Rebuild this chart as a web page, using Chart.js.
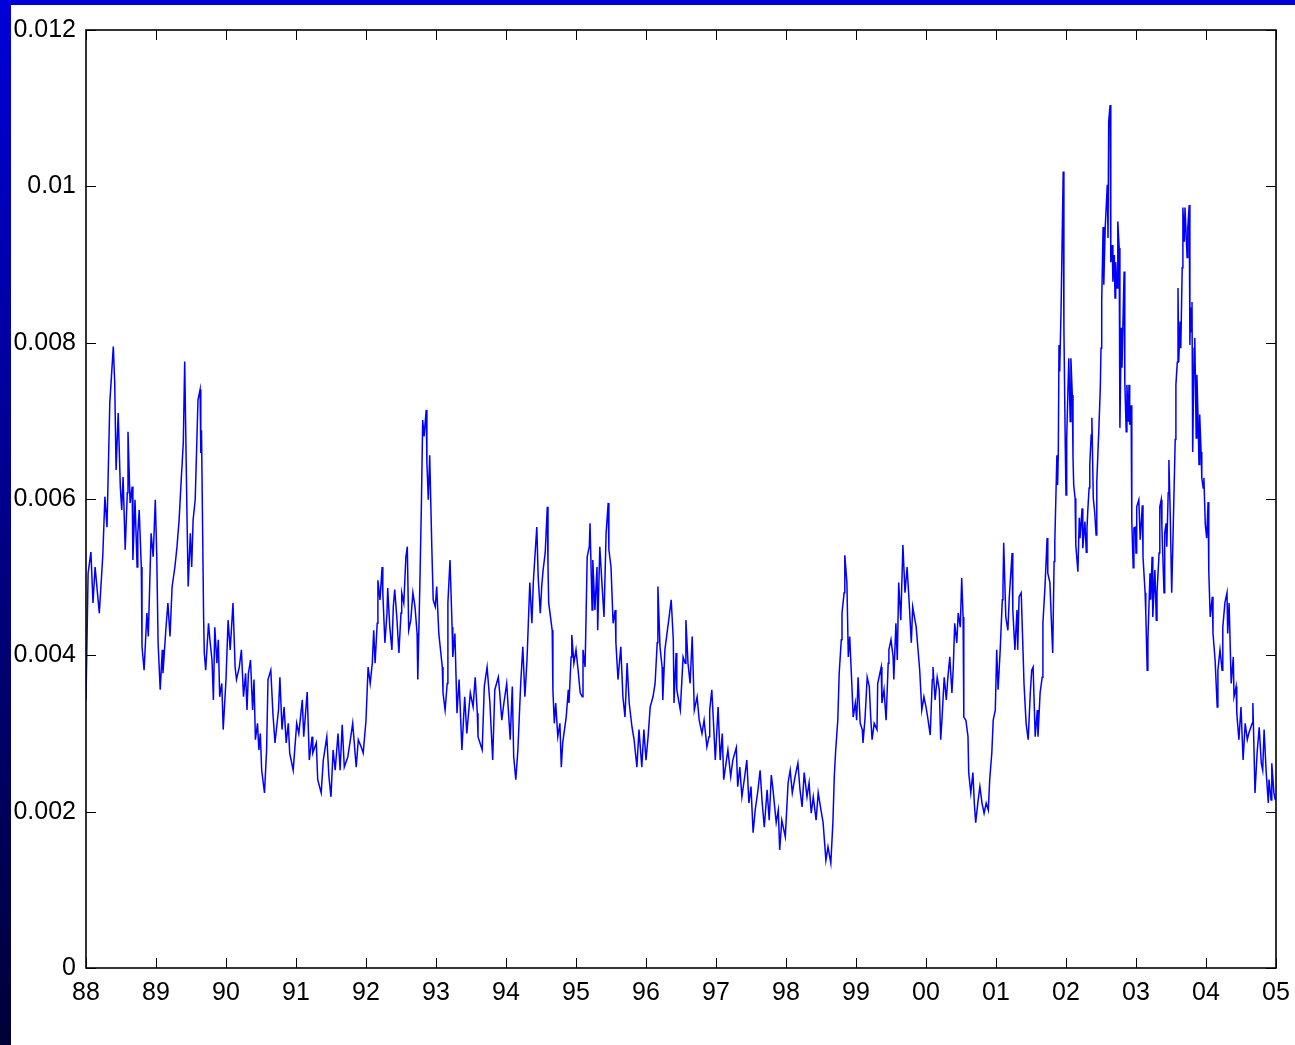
<!DOCTYPE html>
<html>
<head>
<meta charset="utf-8">
<script src="https://cdn.jsdelivr.net/npm/chart.js@4/dist/chart.umd.min.js"></script>
<style>
  html, body { margin: 0; padding: 0; background: #fff; overflow: hidden; }
  #wrap { position: relative; width: 1295px; height: 1045px; }
  #chart { position: absolute; left: 0; top: 0; }
  #barLeft { position: absolute; left: 0; top: 0; width: 11px; height: 1045px;
             background: linear-gradient(#0000d8, #000038); z-index: 2; }
  #barTop { position: absolute; left: 0; top: 0; width: 1295px; height: 5px;
            background: #0000d8; z-index: 2; }
</style>
</head>
<body>
<div id="wrap">
  <canvas id="chart" width="1295" height="1045"></canvas>
  <div id="barLeft"></div>
  <div id="barTop"></div>
</div>
<script>
// decimal years
const dates = [
  1988.00, 1988.03, 1988.07, 1988.10, 1988.13, 1988.19, 1988.24, 1988.27, 1988.30, 1988.34,
  1988.39, 1988.41, 1988.43, 1988.46, 1988.49, 1988.51, 1988.53, 1988.56, 1988.59, 1988.60,
  1988.63, 1988.66, 1988.67, 1988.70, 1988.73, 1988.74, 1988.76, 1988.79, 1988.80, 1988.83,
  1988.87, 1988.89, 1988.93, 1988.96, 1988.99,
  1989.01, 1989.03, 1989.06, 1989.09, 1989.10, 1989.14, 1989.17, 1989.20, 1989.23, 1989.27,
  1989.30, 1989.33, 1989.36, 1989.39, 1989.41, 1989.44, 1989.45, 1989.46, 1989.49, 1989.51,
  1989.53, 1989.56, 1989.58, 1989.60, 1989.63, 1989.64, 1989.65, 1989.68, 1989.69, 1989.71,
  1989.75, 1989.77, 1989.80, 1989.82, 1989.84, 1989.87, 1989.89, 1989.91, 1989.94, 1989.96,
  1990.00, 1990.03, 1990.06, 1990.10, 1990.13, 1990.15, 1990.19, 1990.22, 1990.25, 1990.28,
  1990.30, 1990.32, 1990.35, 1990.38, 1990.40, 1990.42, 1990.45, 1990.47, 1990.49, 1990.51,
  1990.55, 1990.58, 1990.60, 1990.64, 1990.67, 1990.70, 1990.75, 1990.77, 1990.80, 1990.83,
  1990.86, 1990.89, 1990.91, 1990.96,
  1991.01, 1991.04, 1991.09, 1991.11, 1991.16, 1991.19, 1991.23, 1991.24, 1991.29, 1991.31,
  1991.36, 1991.39, 1991.44, 1991.47, 1991.50, 1991.53, 1991.56, 1991.60, 1991.63, 1991.66,
  1991.69, 1991.74, 1991.77, 1991.81, 1991.86, 1991.89, 1991.93, 1991.96,
  1992.00, 1992.03, 1992.06, 1992.09, 1992.11, 1992.13, 1992.16, 1992.17, 1992.20, 1992.23,
  1992.24, 1992.27, 1992.30, 1992.31, 1992.34, 1992.37, 1992.39, 1992.41, 1992.44, 1992.47,
  1992.50, 1992.51, 1992.54, 1992.57, 1992.59, 1992.61, 1992.64, 1992.67, 1992.70, 1992.73,
  1992.74, 1992.77, 1992.79, 1992.81, 1992.83, 1992.86, 1992.87, 1992.89, 1992.91, 1992.94,
  1992.96, 1992.99,
  1993.01, 1993.04, 1993.09, 1993.10, 1993.13, 1993.16, 1993.17, 1993.20, 1993.23, 1993.24,
  1993.27, 1993.30, 1993.33, 1993.37, 1993.41, 1993.44, 1993.49, 1993.53, 1993.56, 1993.59,
  1993.60, 1993.66, 1993.69, 1993.73, 1993.77, 1993.81, 1993.84, 1993.89, 1993.91, 1993.94,
  1993.97,
  1994.01, 1994.06, 1994.09, 1994.11, 1994.14, 1994.17, 1994.21, 1994.24, 1994.27, 1994.30,
  1994.34, 1994.37, 1994.39, 1994.41, 1994.44, 1994.46, 1994.49, 1994.51, 1994.53, 1994.56,
  1994.59, 1994.60, 1994.61, 1994.66, 1994.67, 1994.69, 1994.71, 1994.74, 1994.77, 1994.79,
  1994.81, 1994.86, 1994.89, 1994.90, 1994.93, 1994.94, 1994.97,
  1995.00, 1995.03, 1995.06, 1995.09, 1995.10, 1995.13, 1995.16, 1995.19, 1995.20, 1995.23,
  1995.24, 1995.27, 1995.30, 1995.31, 1995.34, 1995.37, 1995.40, 1995.43, 1995.46, 1995.47,
  1995.50, 1995.53, 1995.56, 1995.57, 1995.60, 1995.64, 1995.67, 1995.70, 1995.73, 1995.76,
  1995.80, 1995.83, 1995.87, 1995.90, 1995.94, 1995.97,
  1996.00, 1996.03, 1996.06, 1996.10, 1996.13, 1996.16, 1996.17, 1996.20, 1996.23, 1996.24,
  1996.27, 1996.30, 1996.33, 1996.36, 1996.39, 1996.40, 1996.43, 1996.44, 1996.49, 1996.53,
  1996.56, 1996.57, 1996.60, 1996.63, 1996.66, 1996.69, 1996.73, 1996.76, 1996.80, 1996.83,
  1996.87, 1996.90, 1996.91, 1996.94, 1996.96, 1996.99,
  1997.03, 1997.06, 1997.09, 1997.11, 1997.17, 1997.21, 1997.24, 1997.29, 1997.31, 1997.34,
  1997.37, 1997.41, 1997.44, 1997.47, 1997.50, 1997.53, 1997.56, 1997.60, 1997.63, 1997.66,
  1997.69, 1997.73, 1997.76, 1997.79, 1997.81, 1997.86, 1997.89, 1997.91, 1997.94, 1997.99,
  1998.03, 1998.06, 1998.09, 1998.13, 1998.17, 1998.20, 1998.23, 1998.26, 1998.30, 1998.33,
  1998.36, 1998.39, 1998.43, 1998.46, 1998.50, 1998.53, 1998.57, 1998.60, 1998.64, 1998.67,
  1998.69, 1998.71, 1998.74, 1998.76, 1998.79, 1998.80, 1998.83, 1998.84, 1998.87, 1998.89,
  1998.91, 1998.94, 1998.96, 1998.99,
  1999.01, 1999.03, 1999.06, 1999.09, 1999.10, 1999.13, 1999.16, 1999.19, 1999.21, 1999.23,
  1999.26, 1999.30, 1999.31, 1999.36, 1999.37, 1999.40, 1999.43, 1999.46, 1999.47, 1999.50,
  1999.53, 1999.54, 1999.57, 1999.59, 1999.61, 1999.64, 1999.67, 1999.70, 1999.73, 1999.76,
  1999.79, 1999.81, 1999.86, 1999.89, 1999.91, 1999.94, 1999.97,
  2000.00, 2000.03, 2000.06, 2000.09, 2000.10, 2000.13, 2000.16, 2000.19, 2000.21, 2000.23,
  2000.26, 2000.29, 2000.31, 2000.34, 2000.37, 2000.39, 2000.41, 2000.44, 2000.46, 2000.49,
  2000.51, 2000.53, 2000.54, 2000.57, 2000.60, 2000.61, 2000.64, 2000.67, 2000.69, 2000.71,
  2000.74, 2000.77, 2000.80, 2000.83, 2000.86, 2000.89, 2000.91, 2000.94, 2000.96, 2000.99,
  2001.01, 2001.03, 2001.06, 2001.09, 2001.10, 2001.11, 2001.14, 2001.17, 2001.19, 2001.23,
  2001.24, 2001.27, 2001.30, 2001.31, 2001.33, 2001.36, 2001.39, 2001.40, 2001.43, 2001.46,
  2001.49, 2001.51, 2001.53, 2001.56, 2001.59, 2001.60, 2001.63, 2001.66, 2001.67, 2001.70,
  2001.73, 2001.74, 2001.77, 2001.80, 2001.81, 2001.83, 2001.84, 2001.87, 2001.88, 2001.89,
  2001.90, 2001.91, 2001.93, 2001.96, 2001.97, 2001.99,
  2002.00, 2002.01, 2002.04, 2002.06, 2002.07, 2002.09, 2002.10, 2002.11, 2002.13, 2002.14,
  2002.17, 2002.19, 2002.20, 2002.23, 2002.24, 2002.27, 2002.29, 2002.30, 2002.31, 2002.33,
  2002.34, 2002.36, 2002.37, 2002.39, 2002.41, 2002.43, 2002.44, 2002.47, 2002.49, 2002.50,
  2002.51, 2002.53, 2002.54, 2002.56, 2002.59, 2002.60, 2002.61, 2002.63, 2002.64, 2002.66,
  2002.67, 2002.69, 2002.70, 2002.71, 2002.73, 2002.74, 2002.76, 2002.77, 2002.79, 2002.80,
  2002.81, 2002.83, 2002.84, 2002.86, 2002.87, 2002.89, 2002.90, 2002.91, 2002.93, 2002.94,
  2002.96, 2002.97, 2002.99,
  2003.00, 2003.01, 2003.04, 2003.06, 2003.09, 2003.10, 2003.13, 2003.14, 2003.16, 2003.17,
  2003.20, 2003.21, 2003.23, 2003.24, 2003.27, 2003.29, 2003.30, 2003.33, 2003.34, 2003.36,
  2003.37, 2003.40, 2003.41, 2003.43, 2003.44, 2003.46, 2003.47, 2003.49, 2003.50, 2003.51,
  2003.53, 2003.56, 2003.57, 2003.59, 2003.60, 2003.61, 2003.63, 2003.64, 2003.66, 2003.67,
  2003.69, 2003.70, 2003.73, 2003.74, 2003.76, 2003.77, 2003.78, 2003.79, 2003.80, 2003.81,
  2003.83, 2003.84, 2003.86, 2003.87, 2003.89, 2003.90, 2003.91, 2003.93, 2003.94, 2003.96,
  2003.97, 2003.99,
  2004.01, 2004.03, 2004.04, 2004.06, 2004.09, 2004.10, 2004.13, 2004.16, 2004.17, 2004.20,
  2004.23, 2004.24, 2004.27, 2004.30, 2004.31, 2004.33, 2004.36, 2004.39, 2004.40, 2004.43,
  2004.44, 2004.47, 2004.50, 2004.53, 2004.56, 2004.59, 2004.61, 2004.66, 2004.67, 2004.70,
  2004.73, 2004.76, 2004.79, 2004.81, 2004.83, 2004.86, 2004.89, 2004.90, 2004.93, 2004.94,
  2004.97, 2004.99
];

// daily volatility, same order as dates
const vol = [
  0.00343, 0.00505, 0.00532, 0.00467, 0.00513, 0.00454, 0.00528, 0.00603, 0.00564, 0.00723,
  0.00795, 0.00749, 0.00637, 0.00710, 0.00616, 0.00586, 0.00628, 0.00535, 0.00608, 0.00686,
  0.00595, 0.00616, 0.00522, 0.00599, 0.00513, 0.00556, 0.00586, 0.00513, 0.00411, 0.00381,
  0.00454, 0.00424, 0.00556, 0.00526, 0.00599,
  0.00531, 0.00416, 0.00356, 0.00407, 0.00377, 0.00432, 0.00467, 0.00424, 0.00488, 0.00513,
  0.00539, 0.00573, 0.00624, 0.00672, 0.00776, 0.00595, 0.00539, 0.00488, 0.00556, 0.00513,
  0.00573, 0.00599, 0.00663, 0.00727, 0.00740, 0.00659, 0.00688, 0.00449, 0.00403, 0.00381,
  0.00441, 0.00420, 0.00394, 0.00343, 0.00436, 0.00390, 0.00420, 0.00347, 0.00364, 0.00305,
  0.00369, 0.00445, 0.00407, 0.00467, 0.00385, 0.00369, 0.00385, 0.00407, 0.00347, 0.00377,
  0.00330, 0.00377, 0.00394, 0.00330, 0.00369, 0.00292, 0.00313, 0.00279, 0.00300, 0.00253,
  0.00224, 0.00279, 0.00369, 0.00381, 0.00326, 0.00288, 0.00330, 0.00372, 0.00305, 0.00334,
  0.00288, 0.00313, 0.00275, 0.00253,
  0.00313, 0.00300, 0.00343, 0.00296, 0.00353, 0.00266, 0.00296, 0.00275, 0.00288, 0.00241,
  0.00224, 0.00266, 0.00296, 0.00245, 0.00219, 0.00279, 0.00253, 0.00300, 0.00253, 0.00311,
  0.00257, 0.00270, 0.00288, 0.00313, 0.00257, 0.00292, 0.00283, 0.00275,
  0.00317, 0.00385, 0.00364, 0.00390, 0.00432, 0.00390, 0.00441, 0.00496, 0.00471, 0.00513,
  0.00480, 0.00416, 0.00454, 0.00486, 0.00436, 0.00407, 0.00462, 0.00484, 0.00449, 0.00403,
  0.00454, 0.00480, 0.00467, 0.00526, 0.00539, 0.00432, 0.00445, 0.00480, 0.00462, 0.00428,
  0.00369, 0.00493, 0.00586, 0.00701, 0.00680, 0.00714, 0.00646, 0.00599, 0.00656, 0.00539,
  0.00471, 0.00462,
  0.00488, 0.00428, 0.00385, 0.00352, 0.00330, 0.00364, 0.00467, 0.00522, 0.00436, 0.00398,
  0.00428, 0.00326, 0.00369, 0.00279, 0.00347, 0.00300, 0.00352, 0.00334, 0.00372, 0.00326,
  0.00296, 0.00279, 0.00360, 0.00385, 0.00339, 0.00266, 0.00356, 0.00372, 0.00352, 0.00317,
  0.00339,
  0.00364, 0.00292, 0.00360, 0.00270, 0.00241, 0.00279, 0.00364, 0.00411, 0.00347, 0.00394,
  0.00493, 0.00441, 0.00493, 0.00522, 0.00564, 0.00500, 0.00454, 0.00488, 0.00509, 0.00531,
  0.00590, 0.00513, 0.00467, 0.00432, 0.00356, 0.00313, 0.00339, 0.00296, 0.00313, 0.00257,
  0.00288, 0.00321, 0.00356, 0.00339, 0.00398, 0.00426, 0.00390,
  0.00407, 0.00381, 0.00352, 0.00347, 0.00407, 0.00385, 0.00526, 0.00539, 0.00569, 0.00458,
  0.00522, 0.00458, 0.00513, 0.00432, 0.00539, 0.00493, 0.00449, 0.00556, 0.00595, 0.00535,
  0.00513, 0.00441, 0.00458, 0.00416, 0.00369, 0.00411, 0.00347, 0.00321, 0.00390, 0.00339,
  0.00308, 0.00292, 0.00257, 0.00305, 0.00257, 0.00305,
  0.00266, 0.00296, 0.00334, 0.00347, 0.00364, 0.00416, 0.00488, 0.00411, 0.00385, 0.00343,
  0.00407, 0.00428, 0.00449, 0.00471, 0.00420, 0.00339, 0.00403, 0.00356, 0.00330, 0.00398,
  0.00390, 0.00445, 0.00390, 0.00364, 0.00424, 0.00330, 0.00347, 0.00317, 0.00300, 0.00317,
  0.00283, 0.00296, 0.00330, 0.00356, 0.00321, 0.00266,
  0.00334, 0.00266, 0.00300, 0.00241, 0.00279, 0.00245, 0.00266, 0.00282, 0.00232, 0.00257,
  0.00219, 0.00245, 0.00266, 0.00211, 0.00232, 0.00173, 0.00202, 0.00228, 0.00253, 0.00211,
  0.00180, 0.00228, 0.00189, 0.00247, 0.00232, 0.00186, 0.00202, 0.00151, 0.00189, 0.00168,
  0.00237, 0.00253, 0.00224, 0.00245, 0.00262, 0.00228, 0.00206, 0.00250, 0.00219, 0.00237,
  0.00198, 0.00219, 0.00189, 0.00224, 0.00202, 0.00186, 0.00138, 0.00155, 0.00134, 0.00186,
  0.00245, 0.00279, 0.00317, 0.00377, 0.00420, 0.00454, 0.00480, 0.00528, 0.00493, 0.00398,
  0.00424, 0.00364, 0.00321, 0.00339,
  0.00317, 0.00372, 0.00313, 0.00305, 0.00288, 0.00321, 0.00372, 0.00360, 0.00321, 0.00292,
  0.00313, 0.00305, 0.00364, 0.00385, 0.00339, 0.00356, 0.00317, 0.00390, 0.00407, 0.00420,
  0.00398, 0.00369, 0.00441, 0.00394, 0.00493, 0.00445, 0.00541, 0.00480, 0.00513, 0.00467,
  0.00416, 0.00462, 0.00436, 0.00403, 0.00381, 0.00330, 0.00347,
  0.00334, 0.00317, 0.00298, 0.00369, 0.00385, 0.00343, 0.00372, 0.00356, 0.00292, 0.00321,
  0.00372, 0.00343, 0.00369, 0.00398, 0.00352, 0.00385, 0.00441, 0.00416, 0.00454, 0.00436,
  0.00499, 0.00449, 0.00321, 0.00317, 0.00296, 0.00250, 0.00224, 0.00250, 0.00211, 0.00186,
  0.00211, 0.00232, 0.00211, 0.00198, 0.00211, 0.00202, 0.00241, 0.00275, 0.00317, 0.00330,
  0.00407, 0.00356, 0.00407, 0.00471, 0.00488, 0.00544, 0.00449, 0.00432, 0.00475, 0.00531,
  0.00458, 0.00407, 0.00458, 0.00407, 0.00475, 0.00480, 0.00394, 0.00364, 0.00313, 0.00292,
  0.00352, 0.00381, 0.00385, 0.00296, 0.00330, 0.00296, 0.00352, 0.00372, 0.00441, 0.00488,
  0.00550, 0.00505, 0.00493, 0.00424, 0.00403, 0.00520, 0.00545, 0.00656, 0.00618, 0.00659,
  0.00797, 0.00763, 0.00845, 0.01019, 0.00819, 0.00665,
  0.00605, 0.00678, 0.00780, 0.00699, 0.00780, 0.00733, 0.00653, 0.00618, 0.00601, 0.00541,
  0.00507, 0.00576, 0.00550, 0.00588, 0.00537, 0.00571, 0.00532, 0.00563, 0.00583, 0.00614,
  0.00644, 0.00682, 0.00704, 0.00601, 0.00583, 0.00554, 0.00622, 0.00691, 0.00742, 0.00793,
  0.00852, 0.00948, 0.00874, 0.00947, 0.01002, 0.00934, 0.01083, 0.01104, 0.00903, 0.00925,
  0.00878, 0.00912, 0.00857, 0.00903, 0.00870, 0.00955, 0.00921, 0.00691, 0.00819, 0.00768,
  0.00810, 0.00891, 0.00750, 0.00686, 0.00746, 0.00699, 0.00746, 0.00695, 0.00720, 0.00571,
  0.00512, 0.00563, 0.00564,
  0.00531, 0.00590, 0.00599, 0.00548, 0.00592, 0.00526, 0.00480, 0.00454, 0.00381, 0.00420,
  0.00505, 0.00471, 0.00526, 0.00449, 0.00509, 0.00445, 0.00480, 0.00531, 0.00590, 0.00599,
  0.00564, 0.00480, 0.00556, 0.00569, 0.00539, 0.00608, 0.00650, 0.00577, 0.00526, 0.00480,
  0.00556, 0.00676, 0.00746, 0.00775, 0.00870, 0.00775, 0.00827, 0.00793, 0.00896, 0.00973,
  0.00929, 0.00973, 0.00909, 0.00947, 0.00976, 0.00797, 0.00845, 0.00814, 0.00852, 0.00660,
  0.00793, 0.00806, 0.00678, 0.00759, 0.00691, 0.00644, 0.00708, 0.00660, 0.00627, 0.00614,
  0.00627, 0.00567,
  0.00550, 0.00596, 0.00507, 0.00449, 0.00475, 0.00428, 0.00394, 0.00334, 0.00381, 0.00407,
  0.00381, 0.00436, 0.00467, 0.00480, 0.00428, 0.00467, 0.00364, 0.00398, 0.00347, 0.00360,
  0.00326, 0.00292, 0.00334, 0.00266, 0.00313, 0.00292, 0.00300, 0.00313, 0.00339, 0.00224,
  0.00275, 0.00308, 0.00262, 0.00253, 0.00305, 0.00250, 0.00211, 0.00241, 0.00215, 0.00262,
  0.00224, 0.00215
];

const xMin = 1988;
const xMax = 2005;
const yMin = 0;
const yMax = 0.012;
const yStep = 0.002;

const TICK_LEN = 10;

// MATLAB-style box with inward ticks on all four sides
const boxTicks = {
  id: "boxTicks",
  afterDraw(chart) {
    const { ctx, chartArea: a, scales } = chart;
    ctx.save();
    ctx.strokeStyle = "#000";
    ctx.lineWidth = 1;
    ctx.beginPath();
    scales.x.ticks.forEach((t) => {
      const px = Math.round(scales.x.getPixelForValue(t.value)) + 0.5;
      ctx.moveTo(px, a.bottom);
      ctx.lineTo(px, a.bottom - TICK_LEN);
      ctx.moveTo(px, a.top);
      ctx.lineTo(px, a.top + TICK_LEN);
    });
    scales.y.ticks.forEach((t) => {
      const py = Math.round(scales.y.getPixelForValue(t.value)) + 0.5;
      ctx.moveTo(a.left, py);
      ctx.lineTo(a.left + TICK_LEN, py);
      ctx.moveTo(a.right, py);
      ctx.lineTo(a.right - TICK_LEN, py);
    });
    ctx.stroke();
    ctx.lineWidth = 1.6;
    ctx.strokeRect(a.left, a.top, a.right - a.left, a.bottom - a.top);
    ctx.restore();
  },
};

const points = dates.map((d, i) => ({ x: d, y: vol[i] }));
const labelFont = { family: "'Liberation Sans', Arial, sans-serif", size: 25 };

new Chart(document.getElementById("chart").getContext("2d"), {
  type: "line",
  data: {
    datasets: [
      {
        data: points,
        borderColor: "#0000ff",
        borderWidth: 1.5,
        pointRadius: 0,
        tension: 0,
        fill: false,
      },
    ],
  },
  options: {
    responsive: false,
    animation: false,
    devicePixelRatio: 1,
    layout: { padding: { top: 30, right: 19, left: 0, bottom: 0 } },
    plugins: { legend: { display: false }, tooltip: { enabled: false } },
    scales: {
      x: {
        type: "linear",
        min: xMin,
        max: xMax,
        grid: { display: false, drawTicks: false },
        border: { display: false },
        ticks: {
          stepSize: 1,
          color: "#000",
          font: labelFont,
          padding: 10,
          maxRotation: 0,
          callback: (v) => String(v % 100).padStart(2, "0"),
        },
        afterFit: (s) => {
          s.height = 77;
          s.paddingLeft = 0;
          s.paddingRight = 0;
        },
      },
      y: {
        min: yMin,
        max: yMax,
        grid: { display: false, drawTicks: false },
        border: { display: false },
        ticks: {
          stepSize: yStep,
          color: "#000",
          font: labelFont,
          padding: 10,
          callback: (v) => (v === 0 ? "0" : String(+v.toFixed(3))),
        },
        afterFit: (s) => {
          s.width = 86;
          s.paddingTop = 0;
          s.paddingBottom = 0;
        },
      },
    },
  },
  plugins: [boxTicks],
});
</script>
</body>
</html>
